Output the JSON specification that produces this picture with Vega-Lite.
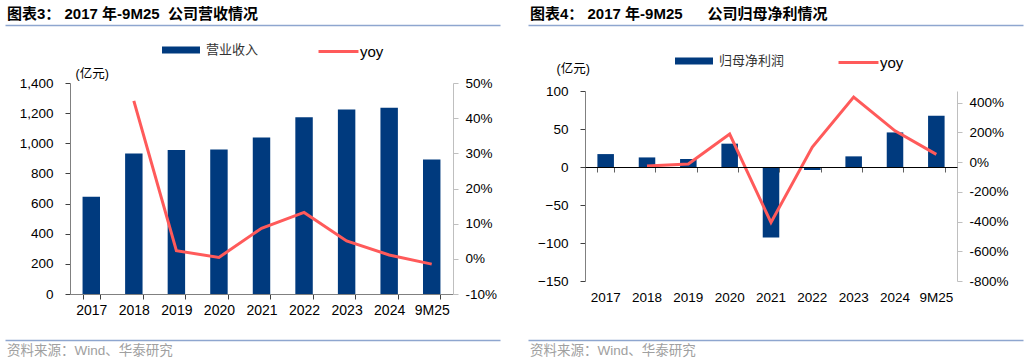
{
  "$schema": "https://vega.github.io/schema/vega-lite/v6.json",
  "padding": {"left": 5, "top": 7, "right": 0, "bottom": 0},
  "config": {
    "view": {"stroke": null},
    "font": "Liberation Sans, Noto Sans CJK SC",
    "axis": {"labelFont": "Liberation Sans, Noto Sans CJK SC", "labelColor": "#000000", "grid": false, "labelOverlap": false}
  },
  "datasets": {
    "rev": [
      {"year": "2017", "value": 645, "yoy": null},
      {"year": "2018", "value": 933, "yoy": 44.9},
      {"year": "2019", "value": 955, "yoy": 2.3},
      {"year": "2020", "value": 958, "yoy": 0.4},
      {"year": "2021", "value": 1038, "yoy": 8.7},
      {"year": "2022", "value": 1172, "yoy": 13.2},
      {"year": "2023", "value": 1225, "yoy": 5.1},
      {"year": "2024", "value": 1236, "yoy": 1.1},
      {"year": "9M25", "value": 893, "yoy": -1.5}
    ],
    "np": [
      {"year": "2017", "value": 17, "yoy": null},
      {"year": "2018", "value": 12.6, "yoy": -27},
      {"year": "2019", "value": 10.5, "yoy": -13},
      {"year": "2020", "value": 30.7, "yoy": 188},
      {"year": "2021", "value": -92.6, "yoy": -406},
      {"year": "2022", "value": -4, "yoy": 101},
      {"year": "2023", "value": 14, "yoy": 437},
      {"year": "2024", "value": 45.5, "yoy": 210},
      {"year": "9M25", "value": 67.5, "yoy": 52}
    ],
    "edge": [{"v": 0}]
  },
  "spacing": -37,
  "align": "none",
  "hconcat": [
    {
      "spacing": 10,
      "vconcat": [
        {
          "width": 430, "height": 0.001,
          "title": {"text": "图表3：\u00a02017 年-9M25\u00a0\u00a0公司营收情况", "anchor": "start", "frame": "bounds", "fontSize": 15, "fontWeight": "bold", "color": "#000000", "offset": -3, "dx": 2},
          "data": {"name": "edge"},
          "mark": {"type": "text", "opacity": 0},
          "encoding": {
            "x": {"field": "v", "type": "quantitative", "scale": {"domain": [0, 1], "range": [-65, 430]},
              "axis": {"orient": "top", "domainColor": "#8EA6CF", "domainWidth": 1.5, "ticks": false, "labels": false, "title": null}}
          }
        },
        {
          "width": 383, "height": 211,
          "data": {"name": "rev"},
          "layer": [
            {
              "mark": {"type": "bar"},
              "encoding": {
                "x": {"field": "year", "type": "ordinal", "sort": null,
                  "scale": {"paddingInner": 0.59, "paddingOuter": 0.295},
                  "axis": {"title": null, "labelAngle": 0, "labelFontSize": 14, "labelPadding": 4, "domainColor": "#808080", "tickColor": "#404040", "tickSize": 5, "tickBand": "extent"}},
                "y": {"field": "value", "type": "quantitative",
                  "scale": {"domain": [0, 1400], "nice": false},
                  "axis": {"values": [0, 200, 400, 600, 800, 1000, 1200, 1400], "format": ",.0f", "labelFontSize": 13.5, "labelPadding": 12, "tickSize": 5, "domainColor": "#808080", "tickColor": "#404040", "minExtent": 65, "maxExtent": 65,
                    "title": "(亿元)", "titleAngle": 0, "titleX": 5, "titleY": -10, "titleAlign": "left", "titleBaseline": "middle", "titleFontWeight": "normal", "titleFontSize": 12.5, "titleColor": "#000000"}},
                "color": {"datum": "营业收入", "type": "nominal", "scale": {"range": ["#003A7E"]},
                  "legend": {"title": null, "orient": "none", "legendX": 102, "legendY": -42, "padding": 0, "symbolType": "M-2.11,-0.39H2.11V0.39H-2.11Z", "symbolSize": 324, "symbolStrokeWidth": 0, "labelFontSize": 13, "labelColor": "#333333", "labelOffset": 16, "labelFont": "Noto Sans CJK SC"}}
              }
            },
            {
              "mark": {"type": "line", "strokeWidth": 3},
              "encoding": {
                "x": {"field": "year", "type": "ordinal", "sort": null},
                "y": {"field": "yoy", "type": "quantitative",
                  "scale": {"domain": [-10, 50], "nice": false},
                  "axis": {"orient": "right", "title": null, "values": [-10, 0, 10, 20, 30, 40, 50], "labelExpr": "datum.value + '%'", "labelFontSize": 13.5, "labelPadding": 7, "tickSize": 5, "domainColor": "#BFBFBF", "tickColor": "#BFBFBF"}},
                "color": {"datum": "yoy", "type": "nominal", "scale": {"range": ["#FF5A5A"]},
                  "legend": {"title": null, "orient": "none", "legendX": 258, "legendY": -42, "padding": 0, "symbolType": "M-2.22,0H2.22", "symbolSize": 324, "symbolStrokeWidth": 3, "labelFontSize": 15, "labelColor": "#000000", "labelOffset": 11}}
              }
            }
          ],
          "resolve": {"scale": {"y": "independent", "color": "independent"}}
        },
        {
          "width": 430, "height": 0.001,
          "title": {"text": "资料来源：Wind、华泰研究", "orient": "bottom", "anchor": "start", "frame": "bounds", "baseline": "top", "fontSize": 13.5, "fontWeight": "normal", "color": "#A0A0A0", "offset": 4, "dx": 2},
          "data": {"name": "edge"},
          "mark": {"type": "text", "opacity": 0},
          "encoding": {
            "x": {"field": "v", "type": "quantitative", "scale": {"domain": [0, 1], "range": [-65, 430]},
              "axis": {"orient": "bottom", "offset": 7, "domainColor": "#8EA6CF", "domainWidth": 1.5, "ticks": false, "labels": false, "title": null}}
          }
        }
      ]
    },
    {
      "spacing": 21,
      "vconcat": [
        {
          "width": 438, "height": 0.001,
          "title": {"text": "图表4：\u00a02017 年-9M25\u00a0\u00a0\u00a0\u00a0\u00a0\u00a0公司归母净利情况", "anchor": "start", "frame": "bounds", "fontSize": 15, "fontWeight": "bold", "color": "#000000", "offset": -3, "dx": 2},
          "data": {"name": "edge"},
          "mark": {"type": "text", "opacity": 0},
          "encoding": {
            "x": {"field": "v", "type": "quantitative", "scale": {"domain": [0, 1], "range": [-57, 438]},
              "axis": {"orient": "top", "domainColor": "#8EA6CF", "domainWidth": 1.5, "ticks": false, "labels": false, "title": null}}
          }
        },
        {
          "width": 372, "height": 190,
          "data": {"name": "np"},
          "layer": [
            {
              "mark": {"type": "bar"},
              "encoding": {
                "x": {"field": "year", "type": "ordinal", "sort": null,
                  "scale": {"paddingInner": 0.6, "paddingOuter": 0.3},
                  "axis": {"title": null, "labelAngle": 0, "labelFontSize": 13.5, "labelPadding": 9, "domain": false, "ticks": false}},
                "y": {"field": "value", "type": "quantitative",
                  "scale": {"domain": [-150, 100], "nice": false},
                  "axis": {"values": [-150, -100, -50, 0, 50, 100], "format": ".0f", "labelFontSize": 13.5, "labelPadding": 12, "tickSize": 5, "domainColor": "#808080", "tickColor": "#404040", "minExtent": 57, "maxExtent": 57,
                    "title": "(亿元)", "titleAngle": 0, "titleX": -29, "titleY": -23, "titleAlign": "left", "titleBaseline": "middle", "titleFontWeight": "normal", "titleFontSize": 12.5, "titleColor": "#000000"}},
                "color": {"datum": "归母净利润", "type": "nominal", "scale": {"range": ["#003A7E"]},
                  "legend": {"title": null, "orient": "none", "legendX": 100, "legendY": -39, "padding": 0, "symbolType": "M-2.11,-0.39H2.11V0.39H-2.11Z", "symbolSize": 324, "symbolStrokeWidth": 0, "labelFontSize": 13, "labelColor": "#333333", "labelOffset": 16, "labelFont": "Noto Sans CJK SC"}}
              }
            },
            {
              "mark": {"type": "line", "strokeWidth": 3},
              "encoding": {
                "x": {"field": "year", "type": "ordinal", "sort": null,
                  "axis": {"orient": "top", "offset": -76, "zindex": 1, "labels": false, "title": null, "domainColor": "#000000", "domainWidth": 1, "tickColor": "#606060", "tickSize": -5, "tickBand": "extent"}},
                "y": {"field": "yoy", "type": "quantitative",
                  "scale": {"domain": [-800, 478], "nice": false},
                  "axis": {"orient": "right", "title": null, "values": [-800, -600, -400, -200, 0, 200, 400], "labelExpr": "datum.value + '%'", "labelFontSize": 13.5, "labelPadding": 7, "tickSize": 5, "domainColor": "#BFBFBF", "tickColor": "#BFBFBF"}},
                "color": {"datum": "yoy", "type": "nominal", "scale": {"range": ["#FF5A5A"]},
                  "legend": {"title": null, "orient": "none", "legendX": 263, "legendY": -39, "padding": 0, "symbolType": "M-2.22,0H2.22", "symbolSize": 324, "symbolStrokeWidth": 3, "labelFontSize": 15, "labelColor": "#000000", "labelOffset": 11}}
              }
            }
          ],
          "resolve": {"scale": {"y": "independent", "color": "independent"}, "axis": {"x": "independent"}}
        },
        {
          "width": 438, "height": 0.001,
          "title": {"text": "资料来源：Wind、华泰研究", "orient": "bottom", "anchor": "start", "frame": "bounds", "baseline": "top", "fontSize": 13.5, "fontWeight": "normal", "color": "#A0A0A0", "offset": 4, "dx": 2},
          "data": {"name": "edge"},
          "mark": {"type": "text", "opacity": 0},
          "encoding": {
            "x": {"field": "v", "type": "quantitative", "scale": {"domain": [0, 1], "range": [-57, 438]},
              "axis": {"orient": "bottom", "offset": 9, "domainColor": "#8EA6CF", "domainWidth": 1.5, "ticks": false, "labels": false, "title": null}}
          }
        }
      ]
    }
  ]
}
